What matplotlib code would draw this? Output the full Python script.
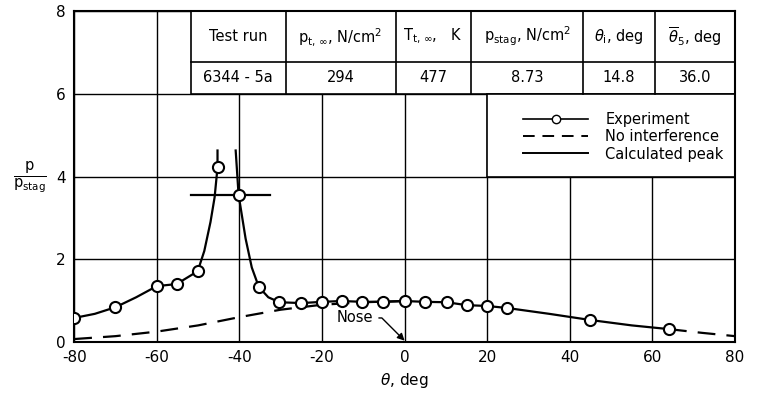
import matplotlib
matplotlib.use("Agg")
import matplotlib.pyplot as plt
from matplotlib.lines import Line2D
from matplotlib.patches import Rectangle

plt.rcParams['font.family'] = ['DejaVu Sans']
plt.rcParams['axes.unicode_minus'] = False

# Experiment data points
exp_theta = [-80, -70, -60, -55.2, -50.1, -45.3, -40.2, -35.3, -30.3, -25, -20, -15.2,
             -10.2, -5.2, 0, 4.9, 10.2, 15, 20, 24.9, 45, 64]
exp_p = [0.58, 0.84, 1.35, 1.40, 1.71, 4.22, 3.56, 1.33, 0.96, 0.94, 0.97, 0.99,
         0.97, 0.97, 0.99, 0.97, 0.96, 0.89, 0.87, 0.82, 0.53, 0.31]

# Faired curve through data (left branch toward peak)
left_theta = [-80, -75, -70, -65, -60, -55.2, -50.1, -48.5, -47, -46, -45.3, -45.3]
left_p = [0.58, 0.68, 0.84, 1.08, 1.35, 1.40, 1.71, 2.2, 2.9, 3.5, 4.22, 4.63]
# right branch from peak
right_theta = [-40.9, -40.2, -38.5, -37, -35.3, -33, -30.3, -25, -20, -15.2, -10.2, -5.2,
               0, 4.9, 10.2, 15, 20, 24.9, 35, 45, 55, 64]
right_p = [4.63, 3.56, 2.5, 1.8, 1.33, 1.08, 0.96, 0.94, 0.97, 0.99, 0.97, 0.97,
           0.99, 0.97, 0.96, 0.89, 0.87, 0.82, 0.68, 0.53, 0.40, 0.31]
# extrapolated tail (dashed)
tail_theta = [64, 72, 80]
tail_p = [0.31, 0.22, 0.14]

# No interference curve
noint_theta = [-80, -70, -60, -50, -40, -30, -20, -10, 0]
noint_p = [0.07, 0.14, 0.25, 0.40, 0.60, 0.78, 0.90, 0.96, 0.99]

# Calculated peak
peak_theta = [-51.8, -32.7]
peak_p = [3.56, 3.56]

# Table
col_edges = [-51.8, -28.8, -2.2, 16.0, 43.3, 60.5, 80]
headers = ["Test run", r"$\mathregular{p_{t,\,\infty}}$, N/cm$^2$", r"$\mathregular{T_{t,\,\infty}}$,   K",
           r"$\mathregular{p_{stag}}$, N/cm$^2$", r"$\theta_\mathregular{i}$, deg", r"$\overline{\theta}_\mathregular{5}$, deg"]
values = ["6344 - 5a", "294", "477", "8.73", "14.8", "36.0"]
row_edges = [8, 6.77, 6]

fig = plt.figure(figsize=(7.57, 3.99), dpi=100)
ax = fig.add_axes([0.098, 0.143, 0.873, 0.829])
ax.set_xlim(-80, 80)
ax.set_ylim(0, 8)
ax.set_xticks(range(-80, 81, 20))
ax.set_yticks(range(0, 9, 2))
ax.tick_params(length=0, labelsize=11, pad=6)
ax.grid(True, color='black', lw=1.0)
for s in ax.spines.values():
    s.set_linewidth(1.5)

# white-out table region and legend region
ax.add_patch(Rectangle((col_edges[0], 6), 80 - col_edges[0], 2, facecolor='white',
                       edgecolor='black', lw=1.2, zorder=2))
ax.add_patch(Rectangle((20, 4), 60, 2, facecolor='white', edgecolor='black', lw=1.2, zorder=2))

for xe in col_edges[1:-1]:
    ax.plot([xe, xe], [6, 8], color='black', lw=1.2, zorder=3)
ax.plot([col_edges[0], 80], [row_edges[1], row_edges[1]], color='black', lw=1.2, zorder=3)
for i in range(len(headers)):
    xc = (col_edges[i] + col_edges[i + 1]) / 2
    ax.text(xc, (row_edges[0] + row_edges[1]) / 2, headers[i], ha='center', va='center',
            fontsize=10.5, zorder=4)
    ax.text(xc, (row_edges[1] + row_edges[2]) / 2, values[i], ha='center', va='center',
            fontsize=10.5, zorder=4)

ax.plot(noint_theta, noint_p, color='black', lw=1.6, dashes=(8, 5), zorder=3)
ax.plot(tail_theta, tail_p, color='black', lw=1.6, dashes=(8, 5), zorder=3)
ax.plot(left_theta, left_p, color='black', lw=1.6, zorder=3)
ax.plot(right_theta, right_p, color='black', lw=1.6, zorder=3)
ax.plot(peak_theta, peak_p, color='black', lw=1.6, zorder=3)
ax.plot(exp_theta, exp_p, linestyle='none', marker='o', markersize=8, markerfacecolor='white',
        markeredgecolor='black', markeredgewidth=1.5, zorder=5)

handles = [Line2D([], [], color='black', lw=1.2, marker='o', markersize=6,
                  markerfacecolor='white', markeredgecolor='black'),
           Line2D([], [], color='black', lw=1.4, dashes=(6, 4)),
           Line2D([], [], color='black', lw=1.4)]
leg = ax.legend(handles, ["Experiment", "No interference", "Calculated peak"],
                loc='center left', bbox_to_anchor=(0.66, 0.62), frameon=False,
                fontsize=10.5, handlelength=4.4, handletextpad=1.2, labelspacing=0.15,
                numpoints=1)
leg.set_zorder(6)

ax.annotate("Nose", xy=(0, 0.03), xytext=(-12, 0.58), ha='center', va='center', fontsize=10.5,
            arrowprops=dict(arrowstyle='-|>', color='black', lw=1.0, shrinkA=2, shrinkB=0,
                            connectionstyle='angle,angleA=0,angleB=-45,rad=0'),
            zorder=6)

ax.set_xlabel(r"$\theta$, deg", fontsize=11, labelpad=4)
fig.text(0.04, 0.555, r"$\frac{\mathregular{p}}{\mathregular{p_{stag}}}$", fontsize=15,
         ha='center', va='center')

fig.savefig("out.png", dpi=100)
